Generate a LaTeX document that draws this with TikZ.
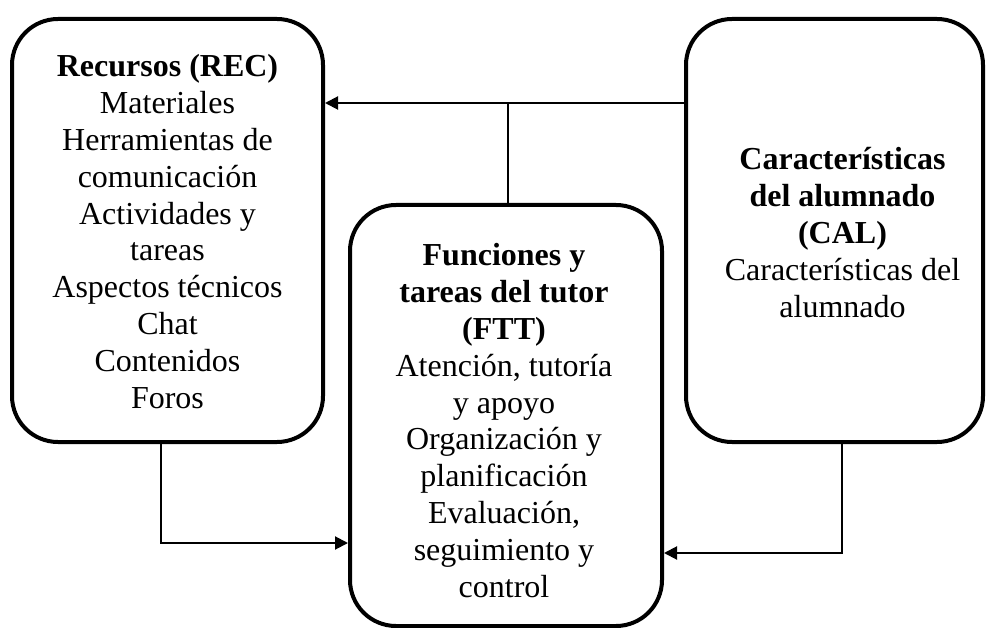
\documentclass[tikz,border=0pt]{standalone}
\usepackage{fontspec}
\setmainfont{Liberation Serif}
\usetikzlibrary{arrows.meta,positioning}

\tikzset{
	kasten/.style={draw, line width=4pt, rounded corners=46pt, inner sep=0pt},
	inhalt/.style={align=center, font=\fontsize{32}{36.8}\selectfont, inner sep=0pt},
	pfeil/.style={line width=2pt, >={Triangle[length=13pt,width=13pt]}, ->}
}

\begin{document}
\begin{tikzpicture}[x=1pt,y=-1pt]
		\useasboundingbox (0,0) rectangle (987,628);
		
		%Kaesten
		\node[kasten, minimum width=311pt, minimum height=423pt] (rec) at (167.5,230.5) {};
		\node[kasten, minimum width=312pt, minimum height=421pt] (ftt) at (506,415.5) {};
		\node[kasten, minimum width=297pt, minimum height=423pt] (cal) at (834.5,230.5) {};
		
		%Texte
		\node[inhalt] (rectext) at ([yshift=-1pt]rec.center)
			{\textbf{Recursos (REC)}\\Materiales\\Herramientas de\\comunicaci\'on\\Actividades y\\tareas\\Aspectos t\'ecnicos\\Chat\\Contenidos\\Foros};
		\node[inhalt] (ffttext) at ([xshift=-2pt,yshift=-5pt]ftt.center)
			{\textbf{Funciones y}\\\textbf{tareas del tutor}\\\textbf{(FTT)}\\Atenci\'on, tutor\'ia\\y apoyo\\Organizaci\'on y\\planificaci\'on\\Evaluaci\'on,\\seguimiento y\\control};
		\node[inhalt] (caltext) at ([xshift=8pt,yshift=-2pt]cal.center)
			{\textbf{Caracter\'isticas}\\\textbf{del alumnado}\\\textbf{(CAL)}\\Caracter\'isticas del\\alumnado};
		
		%Hilfspunkte
		\coordinate (oben) at (508,103);
		\coordinate (links) at (161,543);
		\coordinate (rechts) at (842,553);
		
		%Pfeile
		\draw[pfeil] (cal.west |- oben) -- (oben -| rec.east);
		\draw[line width=2pt] (ftt.north -| oben) -- (oben);
		\draw[pfeil] (rec.south -| links) -- (links) -- (links -| ftt.west);
		\draw[pfeil] (cal.south -| rechts) -- (rechts) -- (rechts -| ftt.east);
	\end{tikzpicture}
\end{document}
